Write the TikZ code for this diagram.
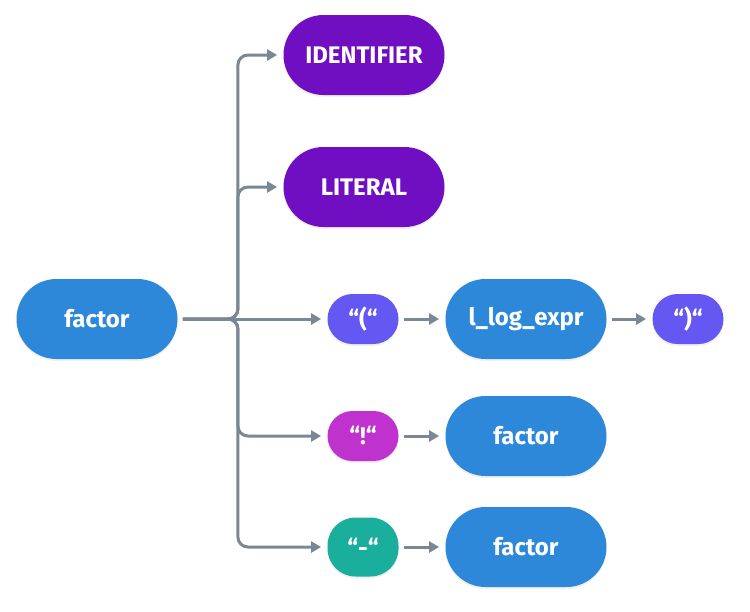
\documentclass[tikz,border=0pt]{standalone}
\usepackage{fontspec}
\setmainfont{Fira Sans}
\usetikzlibrary{arrows.meta,shadows}
\definecolor{ruleblue}{HTML}{2D88DA}
\definecolor{tokenpurple}{HTML}{6F0FC1}
\definecolor{litviolet}{HTML}{6557F2}
\definecolor{litmagenta}{HTML}{BF32CE}
\definecolor{litteal}{HTML}{1AAE9C}
\definecolor{linegray}{HTML}{7A8795}
\tikzset{
  rule/.style={fill=ruleblue,text=white,rounded corners=20pt,minimum width=80.5pt,
    minimum height=40pt,inner sep=0pt,font=\bfseries\fontsize{12}{14}\selectfont,
    drop shadow={shadow xshift=0pt,shadow yshift=-1pt,opacity=.12}},
  token/.style={rule,fill=tokenpurple},
  lit/.style={rule,rounded corners=12.5pt,minimum width=35.5pt,minimum height=25pt},
  conn/.style={draw=linegray,line width=1.5pt,rounded corners=5pt,
    -{Triangle[length=5pt,width=5.5pt]},shorten <=2.5pt,shorten >=3pt}
}
\begin{document}
\begin{tikzpicture}[x=0.5pt,y=-0.5pt]
    \useasboundingbox (0,0) rectangle (750,611);
    \node[rule] (factor) at (97,319) {factor};
    \node[token] (ident) at (364,55) {IDENTIFIER};
    \node[token] (literal) at (364,187) {LITERAL};
    \node[lit,fill=litviolet] (lparen) at (363,319) {“(“};
    \node[rule] (lexpr) at (526,319) {l\_log\_expr};
    \node[lit,fill=litviolet] (rparen) at (688,319) {“)“};
    \node[lit,fill=litmagenta] (bang) at (363,436) {“!“};
    \node[rule] (factorb) at (526,436) {factor};
    \node[lit,fill=litteal,minimum height=29.5pt,rounded corners=14pt] (minus) at (363,547) {“-“};
    \node[rule] (factorc) at (526,547) {factor};
    % fork of the alternatives
    \coordinate (fork) at ([xshift=30pt]factor.east);
    \foreach \alt in {ident,literal,bang,minus}
        \draw[conn] (factor.east) -- (fork) |- (\alt.west);
    \draw[conn] (factor) -- (lparen);
    \foreach \a/\b in {lparen/lexpr,lexpr/rparen,bang/factorb,minus/factorc}
        \draw[conn] (\a) -- (\b);
\end{tikzpicture}
\end{document}
